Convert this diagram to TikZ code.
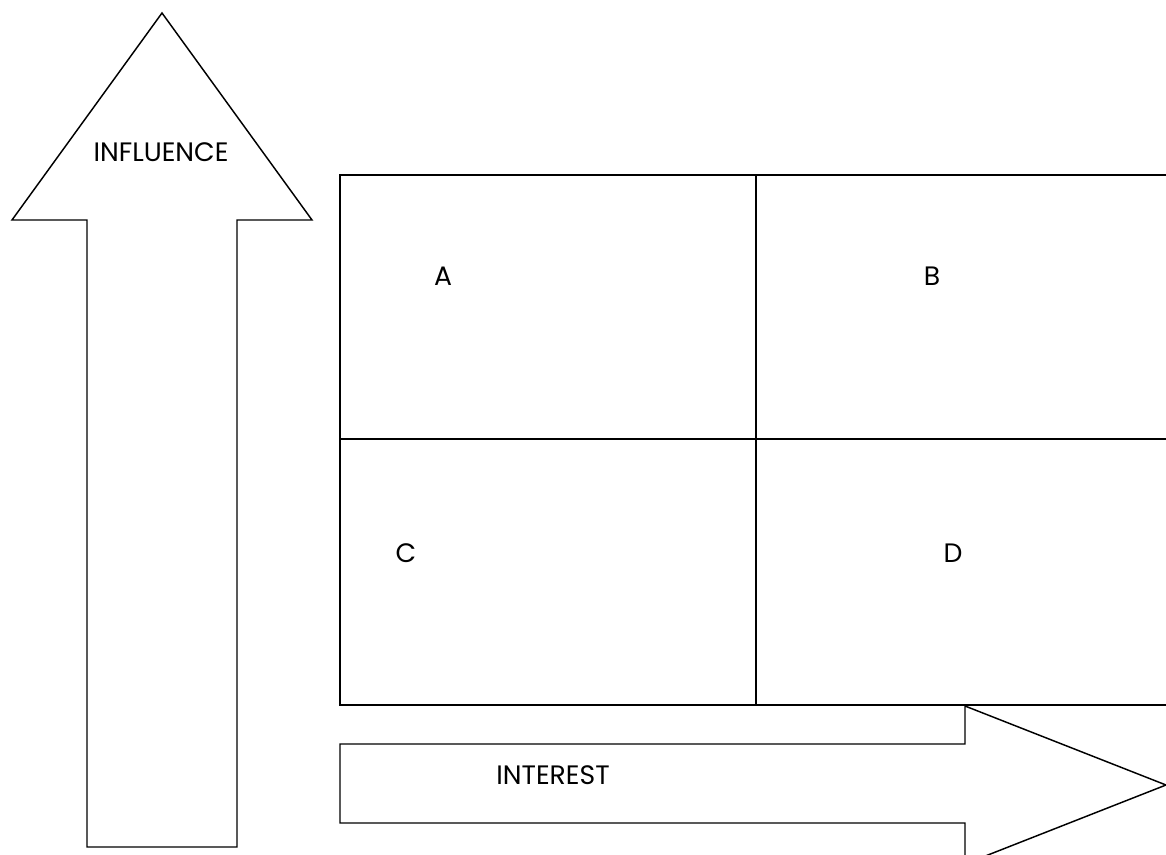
\documentclass[tikz,border=0pt]{standalone}
\usepackage{fontspec}
\setmainfont{Poppins}
\usepackage{tikz}

\begin{document}
\begin{tikzpicture}[x=0.75pt,y=-0.75pt,line width=1.1pt,
    every node/.style={font=\fontsize{20}{22}\selectfont}]
        \useasboundingbox (0,0) rectangle (1166,855);
        \begin{scope}
            \clip (0,0) rectangle (1166,855);
            % influence arrow
            \draw (162,13) -- (312,220) -- (237,220) -- (237,847)
                -- (87,847) -- (87,220) -- (12,220) -- cycle;
            % interest arrow
            \draw (340,744) -- (965,744) -- (965,706) -- (1166,785)
                -- (965,864) -- (965,823) -- (340,823) -- cycle;
            % grid
            \draw (1166,175) -- (340,175) -- (340,705) -- (1166,705);
            \draw (756,175) -- (756,705);
            \draw (340,439) -- (1166,439);
        \end{scope}

        \node (infl) at (161,152) {INFLUENCE};
        \node (intr) at (553,775) {INTEREST};
        \node (A) at (443,276) {A};
        \node (B) at (932,276) {B};
        \node (C) at (406,553) {C};
        \node (D) at (953,553) {D};
    \end{tikzpicture}
\end{document}
